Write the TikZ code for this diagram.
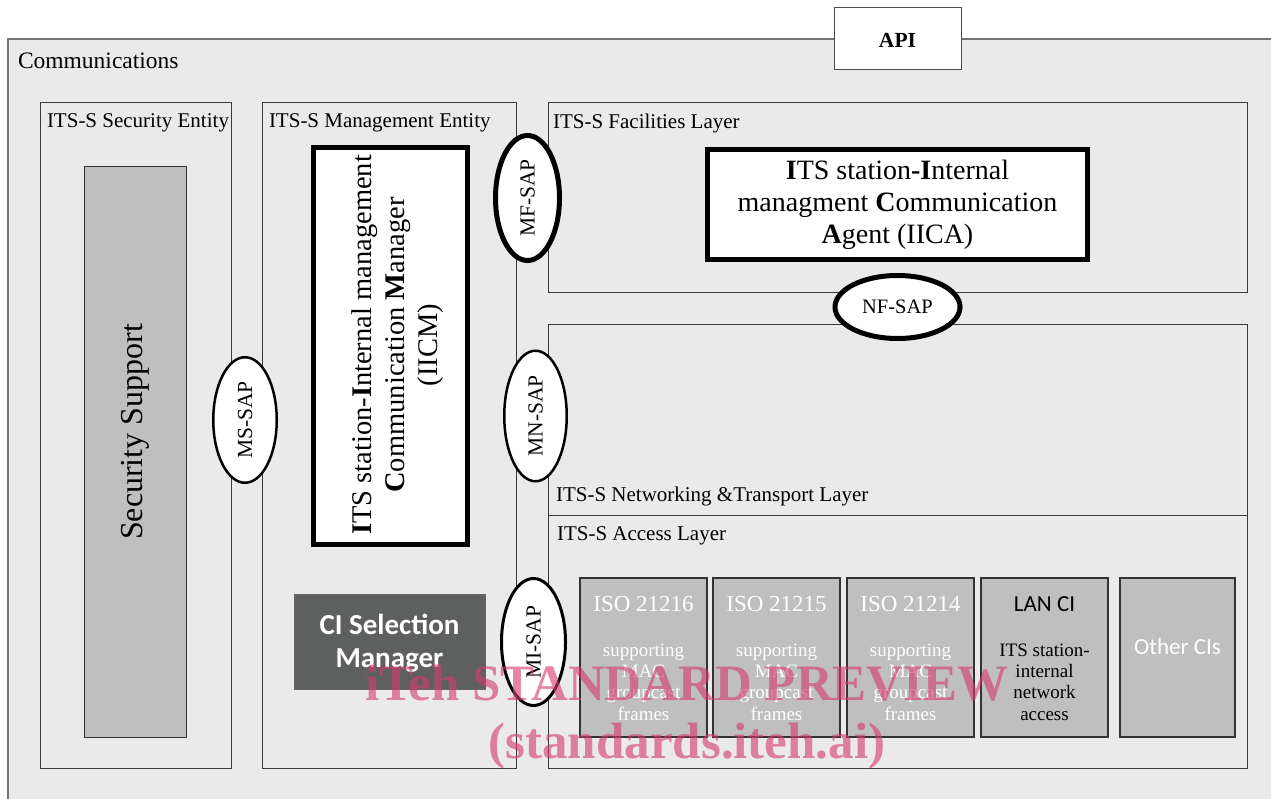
\documentclass[tikz,border=0pt]{standalone}
\usepackage{fontspec}
\setmainfont{Liberation Serif}
\newfontfamily\calfont{Carlito}
\usetikzlibrary{shapes.geometric}
\definecolor{bgc}{HTML}{EAEAEA}
\definecolor{cig}{HTML}{BFBFBF}
\definecolor{dkg}{HTML}{5E5F5F}
\definecolor{wmc}{HTML}{D63C6E}
\newcommand\fs[2]{\fontsize{#1}{#2}\selectfont}
\begin{document}
\begin{tikzpicture}[x=1pt,y=-1pt,
  every node/.style={inner sep=0pt, outer sep=0pt},
  area/.style={rectangle, draw=black!78, line width=0.9pt, fill=bgc, anchor=north west},
  ttl/.style={anchor=base west, font=\fs{21}{24}},
  thickbox/.style={rectangle, draw=black, line width=5pt, fill=white},
  cibox/.style={rectangle, draw=black!80, line width=1.2pt, fill=cig, anchor=north west, minimum height=159},
  sap/.style={ellipse, draw=black, fill=white, font=\fs{21.5}{24}},
  citop/.style={font=\fs{23}{26}, text=white},
  cidesc/.style={font=\fs{19}{21.3}, text=white, align=center},
  wm/.style={anchor=base, font=\bfseries\fs{51}{55}, text=wmc, text opacity=0.62}
]
\useasboundingbox (0,0) rectangle (1271,799);
\fill[white] (0,0) rectangle (1271,799);
% outer communications area
\node[rectangle, draw=black!55, line width=1.2pt, fill=bgc, anchor=north west,
      minimum width=1300, minimum height=800] (comm) at (8,39) {};
\node[anchor=base west, font=\fs{23.5}{26}] (commlbl) at (18,69) {Communications};
% API
\node[rectangle, draw=black!70, line width=1pt, fill=white,
      minimum width=127, minimum height=62] (api) at (897.5,39) {};
\node[font=\bfseries\fs{21.5}{24}] (apilbl) at (897.5,40) {API};
% security entity
\node[area, minimum width=191, minimum height=666] (sec) at (40,102) {};
\node[ttl] (seclbl) at (47,128) {ITS-S Security Entity};
\node[rectangle, draw=black!80, line width=0.9pt, fill=cig, anchor=north west,
      minimum width=102, minimum height=571] (secsup) at (84,166) {};
\node[rotate=90, font=\fs{32}{34}] (secsuplbl) at (135,432) {Security Support};
% management entity
\node[area, minimum width=254, minimum height=666] (mgmt) at (262,102) {};
\node[ttl] (mgmtlbl) at (269,128) {ITS-S Management Entity};
\node[thickbox, minimum width=154, minimum height=397] (iicm) at (390.5,346) {};
\node[rotate=90, align=center, font=\fs{28.5}{33}] (iicmlbl) at (398,345)
  {\textbf{I}TS station-\textbf{I}nternal management\\ \textbf{C}ommunication \textbf{M}anager\\ (IICM)};
\node[rectangle, draw=black!60, line width=1pt, fill=dkg, anchor=north west,
      minimum width=191, minimum height=95] (cisel) at (294,594) {};
\node[align=center, text=white, font=\calfont\bfseries\fs{29}{33}] (cisellbl) at (389.5,643)
  {CI Selection\\Manager};
% facilities layer
\node[area, minimum width=699, minimum height=190] (fac) at (548,102) {};
\node[ttl] (faclbl) at (553,129) {ITS-S Facilities Layer};
\node[thickbox, minimum width=380, minimum height=110] (iica) at (897.5,204.5) {};
\node[align=center, font=\fs{28}{32}] (iicalbl) at (897.5,205)
  {\textbf{I}TS station\textbf{-I}nternal\\ managment \textbf{C}ommunication\\ \textbf{A}gent (IICA)};
% networking and access layers
\node[area, minimum width=699, minimum height=191] (net) at (548,324) {};
\node[ttl] (netlbl) at (556,501) {ITS-S Networking \&Transport Layer};
\node[area, minimum width=699, minimum height=253] (acc) at (548,515) {};
\node[ttl] (acclbl) at (557,540) {ITS-S Access Layer};
% CI boxes
\node[cibox, minimum width=127] (ci1) at (580,578) {};
\node[cibox, minimum width=127] (ci2) at (713,578) {};
\node[cibox, minimum width=127] (ci3) at (847,578) {};
\node[cibox, minimum width=127] (ci4) at (981,578) {};
\node[cibox, minimum width=115] (ci5) at (1120,578) {};
\node[citop] (ci1t) at (643.5,604) {ISO 21216};
\node[citop] (ci2t) at (776.5,604) {ISO 21215};
\node[citop] (ci3t) at (910.5,604) {ISO 21214};
\node[cidesc] (ci1d) at (643.5,682) {supporting\\MAC\\groupcast\\frames};
\node[cidesc] (ci2d) at (776.5,682) {supporting\\MAC\\groupcast\\frames};
\node[cidesc] (ci3d) at (910.5,682) {supporting\\MAC\\groupcast\\frames};
\node[font=\calfont\fs{23}{26}] (ci4t) at (1044.5,604) {LAN CI};
\node[cidesc, text=black] (ci4d) at (1044.5,682) {ITS station-\\internal\\network\\access};
\node[font=\calfont\fs{23}{26}, text=white] (ci5t) at (1177.5,647) {Other CIs};
% SAP ellipses
\node[sap, rotate=90, line width=2.5pt, minimum width=125.5, minimum height=63.5] (ms) at (245,420) {MS-SAP};
\node[sap, rotate=90, line width=5pt, minimum width=125, minimum height=64] (mf) at (527.5,198) {MF-SAP};
\node[sap, rotate=90, line width=2.5pt, minimum width=130.5, minimum height=62.5] (mn) at (535.5,416) {MN-SAP};
\node[sap, rotate=90, line width=3pt, minimum width=127, minimum height=64] (mi) at (533.5,642) {MI-SAP};
\node[sap, line width=5pt, minimum width=125, minimum height=63, font=\fs{20.5}{24}] (nf) at (897.5,307) {NF-SAP};
% watermark
\node[wm] (wm1) at (687,700) {iTeh STANDARD PREVIEW};
\node[wm] (wm2) at (687,758) {(standards.iteh.ai)};
\end{tikzpicture}
\end{document}
